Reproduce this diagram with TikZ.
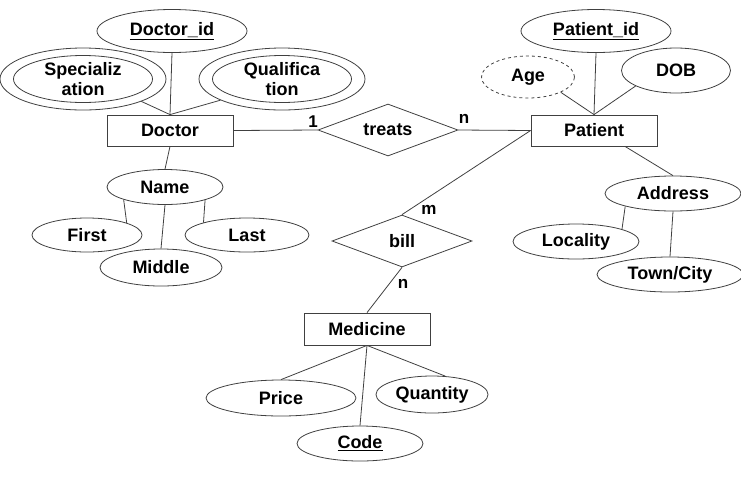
\documentclass[tikz,border=0pt]{standalone}
\usepackage{fontspec}
\setmainfont{Liberation Sans}
\usetikzlibrary{shapes.geometric,calc}
\begin{document}
\begin{tikzpicture}[x=1pt,y=-1pt,
  every node/.style={font=\fontsize{18}{20}\selectfont\bfseries, inner sep=0pt},
  ln/.style={draw=black!75, line width=0.8pt},
  ent/.style={ln, rectangle, minimum width=126pt, minimum height=31pt},
  attr/.style={ln, ellipse},
  rel/.style={ln, diamond, aspect=2.7, minimum width=140pt, minimum height=52pt},
  card/.style={font=\fontsize{17}{20}\selectfont\bfseries}]
\useasboundingbox (0,0) rectangle (741,499);
% entities
\node[ent] (doctor) at (170,130.5) {Doctor};
\node[ent] (patient) at (594,130.5) {Patient};
\node[ent, minimum height=32pt] (medicine) at (367,329) {Medicine};
% relationships
\node[rel] (treats) at (388,130) {treats};
\node[rel] (bill) at (402,241) {bill};
% doctor attributes
\node[attr, minimum width=150pt, minimum height=43pt] (docid) at (172,31) {\underline{Doctor\_id}};
\node[attr, minimum width=166pt, minimum height=62pt] (spec) at (83,79) {};
\node[attr, minimum width=139pt, minimum height=47pt, align=center] (specin) at (83,79) {Specializ\\ation};
\node[attr, minimum width=166pt, minimum height=62pt] (qual) at (282,79) {};
\node[attr, minimum width=139pt, minimum height=47pt, align=center] (qualin) at (282,79) {Qualifica\\tion};
\node[attr, minimum width=116pt, minimum height=35pt] (name) at (165,187) {Name};
\node[attr, minimum width=110pt, minimum height=34pt] (first) at (87,235) {First};
\node[attr, minimum width=124pt, minimum height=34pt] (last) at (247,235) {Last};
\node[attr, minimum width=122pt, minimum height=37pt] (middle) at (161,267.5) {Middle};
% patient attributes
\node[attr, minimum width=150pt, minimum height=43pt] (patid) at (596,31) {\underline{Patient\_id}};
\node[attr, dashed, minimum width=93pt, minimum height=42pt] (age) at (528,77) {Age};
\node[attr, minimum width=109pt, minimum height=45pt] (dob) at (676,70.5) {DOB};
\node[attr, minimum width=136pt, minimum height=35pt] (address) at (673,193.5) {Address};
\node[attr, minimum width=126pt, minimum height=35pt] (locality) at (576,241.5) {Locality};
\node[attr, minimum width=146pt, minimum height=35pt] (town) at (670,274.5) {Town/City};
% medicine attributes
\node[attr, minimum width=150pt, minimum height=36pt] (price) at (281,398) {Price};
\node[attr, minimum width=112pt, minimum height=37pt] (quantity) at (432,394.5) {Quantity};
\node[attr, minimum width=126pt, minimum height=35pt] (code) at (360,443.5) {\underline{Code}};
% connectors
\draw[ln] (docid.south) -- (doctor.north);
\draw[ln] (spec.339.9) -- (doctor.north);
\draw[ln] (qual.199.6) -- (doctor.north);
\draw[ln] (doctor.south) -- (name.north);
\draw[ln] (name.197.6) -- (first.17.9);
\draw[ln] (name.south) -- (middle.north);
\draw[ln] (name.342.4) -- (last.164.8);
\draw[ln] (doctor.east) -- (treats.west);
\draw[ln] (treats.east) -- (patient.west);
\draw[ln] (patid.south) -- (patient.north);
\draw[ln] (age.335.8) -- (patient.north);
\draw[ln] (dob.201.9) -- (patient.north);
\draw[ln] (patient.west) -- (bill.north);
\coordinate (pbot) at ($(patient.south)+(31,0)$);
\draw[ln] (pbot) -- (address.north);
\draw[ln] (address.195) -- (locality.15.2);
\draw[ln] (address.south) -- (town.north);
\draw[ln] (bill.south) -- (medicine.north);
\draw[ln] (medicine.south) -- (price.north);
\draw[ln] (medicine.south) -- (code.north);
\draw[ln] (medicine.south) -- (quantity.54.2);
% cardinalities
\node[card] (c1) at (313,122) {1};
\node[card] (c2) at (464,119) {n};
\node[card] (c3) at (429,210) {m};
\node[card] (c4) at (403,284) {n};
\end{tikzpicture}
\end{document}
